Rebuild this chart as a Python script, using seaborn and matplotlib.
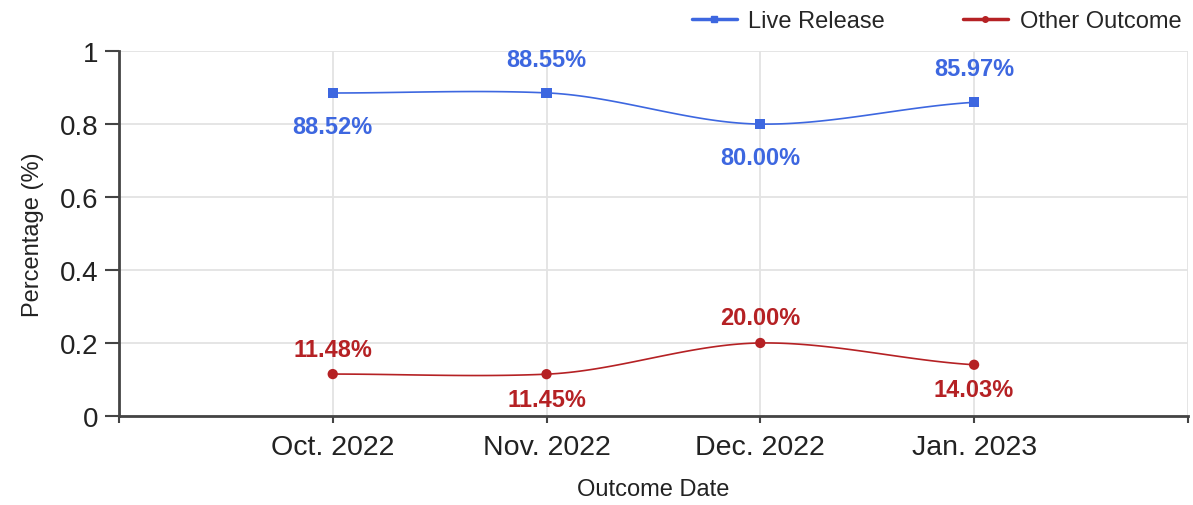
import numpy as np
import pandas as pd
import matplotlib
matplotlib.use("Agg")
import matplotlib.pyplot as plt
from matplotlib.lines import Line2D
import seaborn as sns

# data
months = ["Oct. 2022", "Nov. 2022", "Dec. 2022", "Jan. 2023"]
live_release = [0.8852, 0.8855, 0.8000, 0.8597]
other_outcome = [0.1148, 0.1145, 0.2000, 0.1403]
live_labels = ["88.52%", "88.55%", "80.00%", "85.97%"]
other_labels = ["11.48%", "11.45%", "20.00%", "14.03%"]
y_ticks = [0, 0.2, 0.4, 0.6, 0.8, 1]
y_tick_labels = ["0", "0.2", "0.4", "0.6", "0.8", "1"]

BLUE = "#3d67e0"
RED = "#b52124"

sns.set_theme(style="white")
plt.rcParams["font.family"] = ["Liberation Sans", "DejaVu Sans"]

df = pd.DataFrame({
    "idx": list(range(len(months))) * 2,
    "value": live_release + other_outcome,
    "series": ["Live Release"] * len(months) + ["Other Outcome"] * len(months),
})


def smooth(x, y, n=40):
    # cubic hermite through the points (curved line look)
    x = np.asarray(x, float)
    y = np.asarray(y, float)
    m = np.gradient(y, x)
    xs, ys = [], []
    for i in range(len(x) - 1):
        h = x[i + 1] - x[i]
        t = np.linspace(0, 1, n)
        h00 = 2 * t**3 - 3 * t**2 + 1
        h10 = t**3 - 2 * t**2 + t
        h01 = -2 * t**3 + 3 * t**2
        h11 = t**3 - t**2
        xs.append(x[i] + t * h)
        ys.append(h00 * y[i] + h10 * h * m[i] * 0.6 + h01 * y[i + 1] + h11 * h * m[i + 1] * 0.6)
    return np.concatenate(xs), np.concatenate(ys)


fig = plt.figure(figsize=(11.93, 5.06), dpi=100)
ax = fig.add_axes([0.0997, 0.176, 0.896, 0.721])

idx = np.arange(len(months))
for vals, color in [(live_release, BLUE), (other_outcome, RED)]:
    sx, sy = smooth(idx, vals)
    ax.plot(sx, sy, color=color, lw=1.2, zorder=3)

sns.scatterplot(data=df, x="idx", y="value", hue="series", style="series",
                markers={"Live Release": "s", "Other Outcome": "o"},
                palette={"Live Release": BLUE, "Other Outcome": RED},
                s=55, edgecolor="none", legend=False, ax=ax, zorder=4)

# data labels, alternating below / above
for i, (v, lab) in enumerate(zip(live_release, live_labels)):
    ax.annotate(lab, (i, v), xytext=(0, -24 if i % 2 == 0 else 24), textcoords="offset points",
                ha="center", va="center", color=BLUE, fontsize=17, fontweight="bold")
for i, (v, lab) in enumerate(zip(other_outcome, other_labels)):
    ax.annotate(lab, (i, v), xytext=(0, 18 if i % 2 == 0 else -18), textcoords="offset points",
                ha="center", va="center", color=RED, fontsize=17, fontweight="bold")

ax.set_xlim(-1, 4)
ax.set_ylim(0, 1)
ax.set_xticks([-1] + list(idx) + [4])
ax.set_xticklabels([""] + months + [""], fontsize=20.5, color="#222222")
ax.set_yticks(y_ticks)
ax.set_yticklabels(y_tick_labels, fontsize=20, color="#222222")
ax.tick_params(axis="y", left=True, length=10, width=1.5, color="#444444", pad=5)
ax.tick_params(axis="x", bottom=True, length=5, width=1.5, color="#444444", pad=8)

ax.grid(True, color="#e3e3e3", lw=1.3)
ax.set_axisbelow(True)
for s in ["top", "right"]:
    ax.spines[s].set_visible(False)
for s in ["left", "bottom"]:
    ax.spines[s].set_color("#444444")
    ax.spines[s].set_linewidth(2)

ax.set_xlabel("Outcome Date", fontsize=17, color="#222222", labelpad=13)
ax.set_ylabel("Percentage (%)", fontsize=17, color="#222222", labelpad=11)

handles = [
    Line2D([0], [0], color=BLUE, lw=2.5, marker="s", markersize=4),
    Line2D([0], [0], color=RED, lw=2.5, marker="o", markersize=4),
]
fig.legend(handles, ["Live Release", "Other Outcome"], loc="upper right",
           bbox_to_anchor=(1.008, 1.02), ncol=2, frameon=False, fontsize=17,
           handlelength=1.9, columnspacing=3.3, handletextpad=0.5)

fig.savefig("out.png", dpi=100)
